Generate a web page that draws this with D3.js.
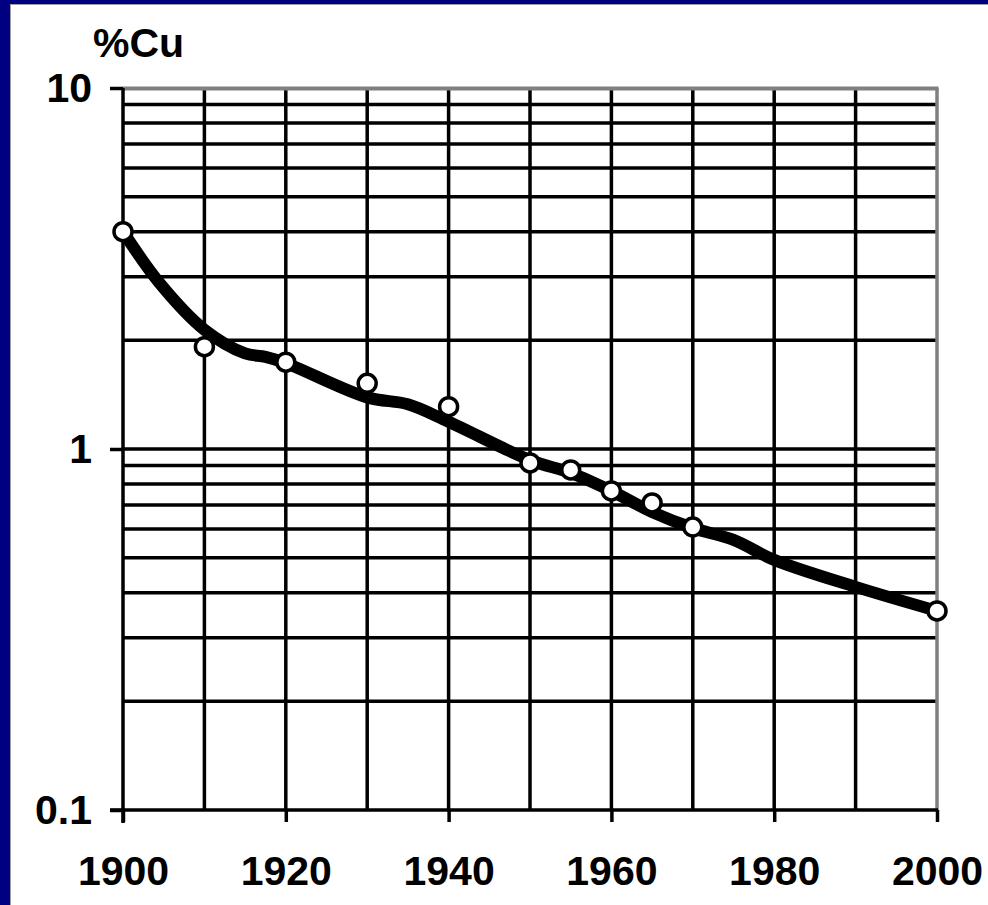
<!DOCTYPE html>
<html><head><meta charset="utf-8">
<script src="https://cdn.jsdelivr.net/npm/d3@7"></script>
<style>
html,body{margin:0;padding:0;background:#fff;}
svg{display:block;}
text{font-family:"Liberation Sans",Arial,sans-serif;font-weight:bold;fill:#000;}
</style></head>
<body>
<svg id="chart" width="988" height="905"></svg>
<script>
// Measured ore grade points (%Cu)
const pointYears  = [1900, 1910, 1920, 1930, 1940, 1950, 1955, 1960, 1965, 1970, 2000];
const pointValues = [4.0, 1.92, 1.74, 1.52, 1.31, 0.915, 0.875, 0.765, 0.709, 0.608, 0.356];
// Trend curve (%Cu)
const curveYears  = [1900, 1904.5, 1910, 1915, 1917.5, 1920, 1930, 1935, 1940, 1950, 1955, 1960, 1965, 1970, 1975, 1980, 1990, 2000];
const curveValues = [4.0, 2.88, 2.14, 1.84, 1.80, 1.73, 1.39, 1.33, 1.19, 0.932, 0.859, 0.765, 0.669, 0.604, 0.56, 0.493, 0.415, 0.356];
// Axis ticks
const xGridYears = [1900,1910,1920,1930,1940,1950,1960,1970,1980,1990,2000];
const xLabelYears = [1900,1920,1940,1960,1980,2000];
const yLabelValues = [0.1, 1, 10];
const yLabelText = ["0.1", "1", "10"];
const yGridValues = [0.2,0.3,0.4,0.5,0.6,0.7,0.8,0.9,1,2,3,4,5,6,7,8,9];
const yTitle = "%Cu";

const svg = d3.select("#chart");
const W = 988, H = 905;

// frame
svg.append("rect").attr("x",0).attr("y",0).attr("width",W).attr("height",H).attr("fill","#000080");
svg.append("rect").attr("x",10).attr("y",4).attr("width",W-10).attr("height",H-4).attr("fill","#a0a0a0");
svg.append("rect").attr("x",11).attr("y",5).attr("width",W-11).attr("height",H-5).attr("fill","#fff");

const x = d3.scaleLinear().domain([1900,2000]).range([123,937]);
const y = d3.scaleLog().domain([0.1,10]).range([810,88]);

const g = svg.append("g");
const GW = 3.5;

// horizontal grid
g.selectAll("line.hg").data(yGridValues).enter().append("line")
  .attr("x1",x(1900)).attr("x2",x(2000))
  .attr("y1",d=>y(d)).attr("y2",d=>y(d))
  .attr("stroke","#000").attr("stroke-width",GW);
// vertical grid
g.selectAll("line.vg").data(xGridYears.slice(1,-1)).enter().append("line")
  .attr("x1",d=>x(d)).attr("x2",d=>x(d))
  .attr("y1",y(10)).attr("y2",y(0.1))
  .attr("stroke","#000").attr("stroke-width",GW);

// plot border top/right (grey)
g.append("line").attr("x1",x(1900)).attr("x2",x(2000)+1.5).attr("y1",y(10)+0.5).attr("y2",y(10)+0.5)
  .attr("stroke","#808080").attr("stroke-width",4);
g.append("line").attr("x1",x(2000)).attr("x2",x(2000)).attr("y1",y(10)).attr("y2",y(0.1))
  .attr("stroke","#808080").attr("stroke-width",3.5);

// x axis
const xAxis = d3.axisBottom(x).tickValues(xLabelYears).tickFormat(d3.format("d"))
  .tickSizeInner(12).tickSizeOuter(0).tickPadding(34);
const xg = svg.append("g").attr("transform",`translate(0,${y(0.1)})`).call(xAxis);
xg.select(".domain").attr("stroke","#000").attr("stroke-width",GW).attr("d",`M${x(1900)-13},0H${x(2000)+1}`);
xg.selectAll(".tick line").attr("stroke","#000").attr("stroke-width",GW);
xg.selectAll(".tick text").attr("font-size",41).attr("font-family","Liberation Sans, Arial, sans-serif").attr("font-weight","bold").attr("fill","#000");

// y axis
const yAxis = d3.axisLeft(y).tickValues(yLabelValues).tickFormat((d,i)=>yLabelText[i])
  .tickSizeInner(13).tickSizeOuter(0).tickPadding(18);
const yg = svg.append("g").attr("transform",`translate(${x(1900)},0)`).call(yAxis);
yg.select(".domain").attr("stroke","#000").attr("stroke-width",GW).attr("d",`M0,${y(10)}V${y(0.1)+13}`);
yg.selectAll(".tick line").attr("stroke","#000").attr("stroke-width",GW);
yg.selectAll(".tick text").attr("font-size",41).attr("font-family","Liberation Sans, Arial, sans-serif").attr("font-weight","bold").attr("fill","#000");

// y title
svg.append("text").attr("x",93).attr("y",57).attr("font-size",41).text(yTitle);

// trend curve
const curveData = curveYears.map((yr,i)=>[yr,curveValues[i]]);
svg.append("path").datum(curveData)
  .attr("d", d3.line().x(d=>x(d[0])).y(d=>y(d[1])).curve(d3.curveCatmullRom.alpha(0.5)))
  .attr("fill","none").attr("stroke","#000").attr("stroke-width",12)
  .attr("stroke-linejoin","round").attr("stroke-linecap","round");

// points
const ptData = pointYears.map((yr,i)=>[yr,pointValues[i]]);
svg.selectAll("circle.pt").data(ptData).enter().append("circle")
  .attr("cx",d=>x(d[0])).attr("cy",d=>y(d[1])).attr("r",9)
  .attr("fill","#fff").attr("stroke","#000").attr("stroke-width",3.5);
</script>
</body></html>
